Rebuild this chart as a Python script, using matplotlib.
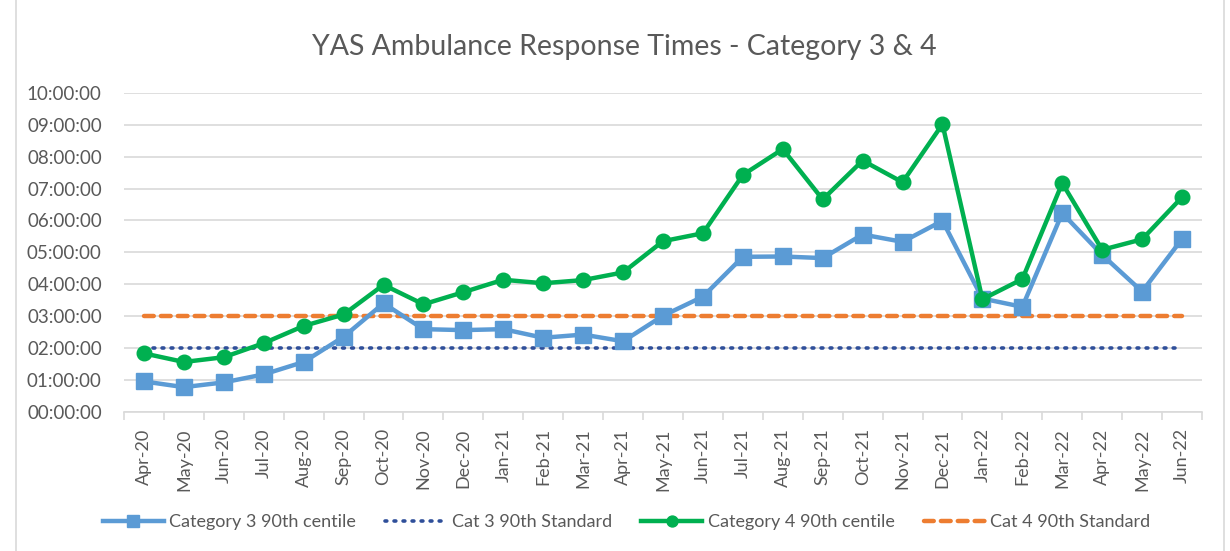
import matplotlib
matplotlib.use("Agg")
import matplotlib.pyplot as plt
from matplotlib.patches import FancyBboxPatch
from matplotlib.ticker import FuncFormatter, FixedLocator, NullFormatter

months = ["Apr-20", "May-20", "Jun-20", "Jul-20", "Aug-20", "Sep-20", "Oct-20",
          "Nov-20", "Dec-20", "Jan-21", "Feb-21", "Mar-21", "Apr-21", "May-21",
          "Jun-21", "Jul-21", "Aug-21", "Sep-21", "Oct-21", "Nov-21", "Dec-21",
          "Jan-22", "Feb-22", "Mar-22", "Apr-22", "May-22", "Jun-22"]

# values in hours
cat3_90th = [0.95, 0.77, 0.92, 1.17, 1.56, 2.35, 3.40, 2.59, 2.56, 2.59, 2.32, 2.42,
             2.21, 3.01, 3.61, 4.86, 4.87, 4.82, 5.56, 5.33, 5.99, 3.55, 3.29, 6.23,
             4.92, 3.77, 5.42]
cat4_90th = [1.83, 1.56, 1.71, 2.15, 2.69, 3.05, 3.98, 3.37, 3.75, 4.14, 4.03, 4.13,
             4.37, 5.35, 5.60, 7.43, 8.24, 6.66, 7.88, 7.20, 9.02, 3.53, 4.16, 7.17,
             5.08, 5.41, 6.73]
cat3_standard = [2.0] * len(months)
cat4_standard = [3.0] * len(months)

FONT = "Lato"
GREY = "#595959"

W, H = 1230, 551
fig = plt.figure(figsize=(W / 100, H / 100), dpi=100)
fig.patch.set_facecolor("white")

# chart border
border = FancyBboxPatch((16 / W, -10 / H), (1224 - 16) / W, (H + 20) / H,
                        boxstyle="round,pad=0,rounding_size=0.004",
                        transform=fig.transFigure, facecolor="none",
                        edgecolor="#D9D9D9", linewidth=1.2)
fig.patches.append(border)

left, right = 124 / W, 1202 / W
bottom, top = (H - 411.7) / H, (H - 93) / H
ax = fig.add_axes([left, bottom, right - left, top - bottom])

x = list(range(len(months)))
ax.plot(x, cat3_90th, color="#5B9BD5", linewidth=3.2, marker="s", markersize=11.5,
        label="Category 3 90th centile", zorder=3)
ax.plot(x, cat3_standard, color="#2F4F9A", linewidth=2.6, linestyle=(0, (0.5, 2.0)),
        dash_capstyle="round", label="Cat 3 90th Standard", zorder=2)
ax.plot(x, cat4_90th, color="#00B050", linewidth=3.2, marker="o", markersize=10.5,
        label="Category 4 90th centile", zorder=4)
ax.plot(x, cat4_standard, color="#ED7D31", linewidth=3.2, linestyle=(0, (2.2, 1.6)),
        dash_capstyle="round", label="Cat 4 90th Standard", zorder=2)

ax.set_xlim(-0.5, len(months) - 0.5)
ax.set_ylim(0, 10)
ax.set_yticks(range(0, 11))
ax.yaxis.set_major_formatter(FuncFormatter(lambda v, p: f"{int(round(v)):02d}:00:00"))
ax.grid(axis="y", color="#D9D9D9", linewidth=1.2)
ax.set_axisbelow(True)

ax.set_xticks(x)
ax.set_xticklabels(months, rotation=90, fontfamily=FONT, fontsize=13, color=GREY)
ax.xaxis.set_minor_locator(FixedLocator([i - 0.5 for i in range(len(months) + 1)]))
ax.xaxis.set_minor_formatter(NullFormatter())
ax.tick_params(axis="x", which="major", length=0, pad=12)
ax.tick_params(axis="x", which="minor", length=6, width=1.2, color="#D9D9D9")
ax.tick_params(axis="y", length=0, pad=16, labelsize=13.5, labelcolor=GREY)
for lab in ax.get_yticklabels():
    lab.set_fontfamily(FONT)

for s in ["top", "right", "left"]:
    ax.spines[s].set_visible(False)
ax.spines["bottom"].set_color("#D9D9D9")
ax.spines["bottom"].set_linewidth(1.2)

fig.text(0.5 * (304 + 944) / W, 1 - 47 / H, "YAS Ambulance Response Times - Category 3 & 4",
         ha="center", va="center", fontsize=20.5, color=GREY, fontfamily=FONT)

leg = fig.legend(loc="center", bbox_to_anchor=(0.5 * (98 + 1155) / W, 1 - 522 / H),
                 ncol=4, frameon=False, prop={"family": FONT, "size": 13},
                 labelcolor=GREY, handlelength=3.4, handletextpad=0.3,
                 columnspacing=1.6, markerscale=0.75)

fig.savefig("out.png", dpi=100, facecolor="white")
